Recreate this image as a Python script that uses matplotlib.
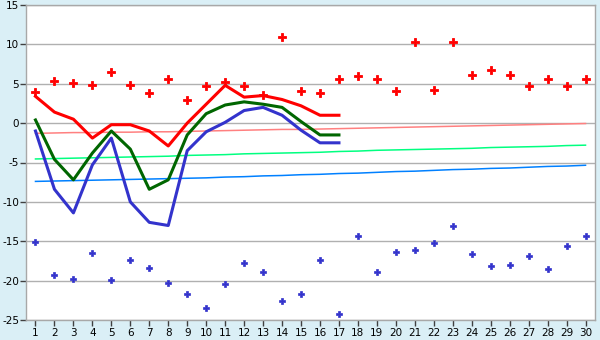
import matplotlib
matplotlib.use("Agg")
import matplotlib.pyplot as plt

days = list(range(1, 31))

max_points = [3.9, 5.4, 5.1, 4.8, 6.5, 4.8, 3.8, 5.6, 3.0, 4.7,
              5.2, 4.7, 3.6, 11.0, 4.1, 3.8, 5.6, 6.0, 5.6, 4.1,
              10.3, 4.2, 10.3, 6.1, 6.7, 6.1, 4.7, 5.6, 4.7, 5.6]
min_points = [-15.1, -19.3, -19.8, -16.5, -19.9, -17.4, -18.4, -20.3, -21.7, -23.5,
              -20.4, -17.8, -18.9, -22.6, -21.7, -17.4, -24.2, -14.3, -18.9, -16.4,
              -16.1, -15.2, -13.1, -16.6, -18.1, -18.0, -16.9, -18.5, -15.6, -14.3]

obs_days = list(range(1, 18))
tmax = [3.4, 1.4, 0.5, -1.9, -0.2, -0.2, -1.0, -2.9, 0.0, 2.4,
        4.8, 3.3, 3.5, 3.0, 2.2, 1.0, 1.0]
tmean = [0.4, -4.6, -7.2, -3.8, -1.0, -3.3, -8.4, -7.2, -1.5, 1.2,
         2.3, 2.7, 2.4, 2.0, 0.2, -1.5, -1.5]
tmin = [-1.0, -8.4, -11.4, -5.3, -1.9, -10.0, -12.6, -13.0, -3.5, -1.1,
        0.1, 1.6, 2.0, 1.0, -0.9, -2.5, -2.5]

clim_max = [-1.3, -1.25, -1.2, -1.2, -1.15, -1.15, -1.1, -1.1, -1.05, -1.0,
            -0.95, -0.9, -0.85, -0.8, -0.8, -0.75, -0.7, -0.65, -0.6, -0.55,
            -0.5, -0.45, -0.4, -0.35, -0.3, -0.25, -0.2, -0.15, -0.1, -0.05]
clim_mean = [-4.55, -4.5, -4.45, -4.4, -4.35, -4.3, -4.25, -4.2, -4.1, -4.05,
             -4.0, -3.9, -3.85, -3.8, -3.75, -3.7, -3.6, -3.55, -3.45, -3.4,
             -3.35, -3.3, -3.25, -3.2, -3.1, -3.05, -3.0, -2.95, -2.85, -2.8]
clim_min = [-7.4, -7.35, -7.3, -7.25, -7.2, -7.15, -7.1, -7.05, -7.0, -6.95,
            -6.85, -6.8, -6.7, -6.65, -6.55, -6.5, -6.4, -6.35, -6.25, -6.15,
            -6.1, -6.0, -5.9, -5.85, -5.75, -5.7, -5.6, -5.5, -5.45, -5.35]

y_ticks = [-25, -20, -15, -10, -5, 0, 5, 10, 15]

bg = "#daeff6"
fig = plt.figure(figsize=(6.0, 3.4), dpi=100, facecolor=bg)
ax = fig.add_axes([26 / 600, 20 / 340, 569 / 600, 315 / 340])
ax.set_facecolor("white")

ax.set_xlim(0.5, 30.5)
ax.set_ylim(-25, 15)
ax.set_yticks(y_ticks)
ax.set_yticklabels([str(t) for t in y_ticks])
ax.set_xticks(days)
ax.set_xticklabels([str(d) for d in days])
ax.grid(axis="y", color="#b0b0b0", linewidth=1.0)
ax.set_axisbelow(True)

for s in ax.spines.values():
    s.set_color("#a8a8a8")
    s.set_linewidth(1.0)

ax.tick_params(axis="both", colors="#000000", labelsize=7.5, length=4,
               width=1.0, direction="out")
ax.tick_params(axis="y", pad=1)
ax.tick_params(axis="x", pad=1.5)
ax.tick_params(axis="both", color="#404040")

ax.plot(days, clim_max, color="#ff8080", linewidth=1.1)
ax.plot(days, clim_mean, color="#00ff80", linewidth=1.1)
ax.plot(days, clim_min, color="#0080ff", linewidth=1.1)

ax.plot(obs_days, tmax, color="#ff0000", linewidth=2.2)
ax.plot(obs_days, tmean, color="#006600", linewidth=2.2)
ax.plot(obs_days, tmin, color="#3333cc", linewidth=2.2)

ax.plot(days, max_points, linestyle="none", marker="P", markersize=5.5,
        color="#ff0000", markeredgewidth=0.6)
ax.plot(days, min_points, linestyle="none", marker="P", markersize=5,
        color="#3333cc", markeredgewidth=0.5)

fig.savefig("out.png", dpi=100, facecolor=bg)
